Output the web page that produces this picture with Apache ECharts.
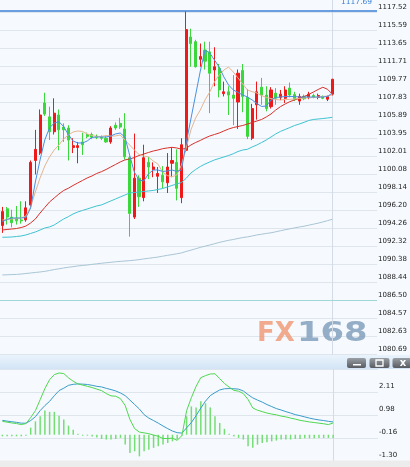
<!DOCTYPE html>
<html>
<head>
<meta charset="utf-8">
<script src="https://cdn.jsdelivr.net/npm/echarts@6/dist/echarts.min.js"></script>
<style>
html, body { margin: 0; padding: 0; background: #f6fafe; }
#main { width: 410px; height: 467px; }
</style>
</head>
<body>
<div id="main"></div>
<script>
// 71 candles + empty slots on the right
const categories = Array.from({ length: 80 }, (_, i) => String(i));

const opens = [1094.6,1096.4,1095.5,1095.4,1095.2,1095.2,1096.8,1101.6,1102.4,1107.8,
  1106.3,1104.7,1106.5,1105.2,1105.1,1103.0,1103.0,1103.6,1104.4,1104.4,
  1104.2,1104.1,1104.0,1103.6,1105.4,1105.6,1105.0,1101.9,1095.5,1099.7,
  1097.6,1101.4,1100.6,1099.9,1100.0,1099.2,1101.3,1101.4,1097.6,1102.7,
  1114.9,1114.4,1112.5,1113.5,1113.3,1111.35,1111.5,1108.8,1109.0,1108.65,
  1107.9,1111.3,1108.4,1104.0,1107.6,1109.5,1108.65,1107.4,1108.85,1108.4,
  1108.3,1109.4,1108.7,1108.0,1108.5,1108.4,1108.6,1108.4,1108.5,1108.2,
  1108.75];
const closes = [1096.1,1095.5,1094.9,1095.1,1095.1,1096.5,1101.4,1102.8,1106.5,1106.6,
  1104.7,1106.7,1104.9,1104.9,1103.8,1103.2,1103.2,1103.3,1104.2,1104.1,
  1104.1,1104.0,1103.6,1105.1,1105.1,1105.2,1102.0,1095.9,1099.7,1097.7,
  1101.9,1100.9,1100.9,1100.2,1099.3,1100.9,1101.6,1098.6,1103.3,1115.7,
  1114.2,1111.7,1112.8,1112.3,1111.0,1111.7,1109.2,1109.0,1108.65,1108.3,
  1111.0,1108.5,1104.2,1107.2,1109.0,1108.65,1107.2,1109.2,1108.3,1108.75,
  1109.2,1108.65,1108.2,1108.5,1108.25,1108.75,1108.4,1108.6,1108.3,1108.5,
  1110.35];
const lows = [1093.8,1094.7,1094.4,1094.7,1094.8,1095.0,1096.6,1100.1,1102.2,1106.4,
  1103.8,1104.4,1102.7,1103.6,1101.6,1102.4,1101.3,1102.2,1104.0,1103.9,
  1103.9,1103.8,1103.5,1103.4,1104.9,1105.0,1101.7,1093.4,1095.3,1096.6,
  1097.2,1099.6,1099.8,1098.1,1098.6,1098.1,1099.8,1097.3,1097.0,1102.5,
  1111.7,1111.6,1111.7,1111.4,1106.7,1109.6,1108.4,1108.5,1106.5,1105.4,
  1105.0,1106.8,1103.9,1103.8,1106.0,1107.6,1106.9,1107.2,1107.6,1108.1,
  1107.8,1108.4,1108.0,1107.6,1108.1,1108.2,1108.3,1108.2,1108.2,1108.0,
  1108.6];
const highs = [1096.6,1096.6,1096.3,1096.7,1097.2,1097.2,1101.6,1104.9,1107.1,1108.9,
  1107.4,1108.3,1107.1,1105.6,1105.4,1104.0,1103.6,1104.6,1104.6,1104.6,
  1104.4,1104.3,1104.2,1105.3,1105.7,1106.2,1106.7,1102.1,1104.5,1100.0,
  1103.3,1102.0,1101.4,1100.9,1101.0,1102.4,1103.0,1102.8,1104.0,1117.69,
  1115.8,1114.6,1114.2,1114.4,1114.4,1113.8,1112.0,1110.1,1109.6,1110.8,
  1111.4,1112.0,1109.3,1107.7,1110.1,1110.5,1109.6,1109.5,1109.4,1109.2,
  1109.6,1110.0,1109.0,1108.8,1108.7,1109.0,1108.8,1108.8,1108.6,1108.6,
  1110.4];

const maBlue = [1095.01,1095.25,1095.41,1095.41,1095.41,1095.46,1096.48,1099.28,1101.66,1103.81,
  1105.10,1105.64,1105.78,1105.26,1104.40,1103.70,1103.49,1103.49,1103.70,1104.08,
  1104.13,1104.13,1104.13,1104.24,1104.46,1104.56,1104.13,1102.19,1100.36,1099.50,
  1099.39,1100.15,1100.58,1100.58,1100.42,1100.47,1100.58,1100.42,1100.58,1103.49,
  1106.07,1108.66,1111.24,1113.50,1113.18,1112.43,1111.67,1110.60,1109.73,1109.20,
  1108.93,1108.66,1108.44,1108.12,1107.74,1107.42,1107.47,1108.12,1108.39,1108.44,
  1108.49,1108.49,1108.49,1108.44,1108.44,1108.44,1108.44,1108.44,1108.44,1108.49,
  1108.87];
const maTan = [1095.19,1095.25,1095.30,1095.35,1095.41,1095.62,1096.59,1098.21,1099.72,1101.01,
  1101.98,1102.73,1103.27,1103.92,1104.35,1104.67,1104.78,1104.73,1104.46,1104.29,
  1104.19,1104.19,1104.29,1104.24,1104.24,1104.35,1103.81,1103.27,1102.73,1102.25,
  1102.09,1101.98,1101.55,1101.22,1100.36,1099.98,1099.85,1100.04,1101.11,1102.94,
  1104.89,1106.18,1107.04,1108.12,1108.98,1110.06,1110.81,1111.35,1111.67,1111.13,
  1110.49,1109.84,1109.20,1109.01,1108.87,1108.60,1108.39,1108.28,1108.17,1108.12,
  1108.17,1108.19,1108.23,1108.28,1108.33,1108.35,1108.39,1108.44,1108.49,1108.55,
  1108.66];
const maRed = [1094.11,1094.17,1094.22,1094.27,1094.38,1094.54,1094.87,1095.30,1095.94,1096.54,
  1097.13,1097.56,1097.99,1098.37,1098.61,1098.91,1099.18,1099.45,1099.72,1099.93,
  1100.20,1100.39,1100.63,1100.90,1101.17,1101.44,1101.66,1101.76,1101.92,1102.14,
  1102.30,1102.46,1102.62,1102.73,1102.87,1102.95,1103.02,1102.95,1102.81,1102.91,
  1103.27,1103.54,1103.76,1104.02,1104.24,1104.40,1104.56,1104.78,1104.99,1105.15,
  1105.26,1105.37,1105.53,1105.69,1105.85,1106.02,1106.29,1106.61,1107.04,1107.40,
  1107.69,1107.94,1108.12,1108.30,1108.49,1108.71,1108.98,1109.25,1109.49,1109.27,
  1108.76];
const maCyan = [1093.33,1093.34,1093.36,1093.41,1093.47,1093.58,1093.74,1093.90,1094.11,1094.33,
  1094.44,1094.65,1094.98,1095.30,1095.55,1095.84,1096.05,1096.22,1096.38,1096.54,
  1096.70,1096.81,1097.02,1097.24,1097.45,1097.67,1097.88,1098.10,1098.15,1098.21,
  1098.26,1098.32,1098.37,1098.48,1098.58,1098.75,1098.91,1099.07,1099.23,1099.68,
  1100.25,1100.63,1100.95,1101.22,1101.44,1101.66,1101.82,1101.98,1102.14,1102.33,
  1102.57,1102.73,1102.81,1103.06,1103.27,1103.54,1103.81,1104.13,1104.46,1104.73,
  1104.94,1105.15,1105.37,1105.53,1105.71,1105.91,1106.02,1106.07,1106.12,1106.18,
  1106.25];
const maGray = [1089.27,1089.29,1089.31,1089.33,1089.37,1089.43,1089.48,1089.54,1089.59,1089.66,
  1089.75,1089.85,1089.93,1090.02,1090.10,1090.16,1090.24,1090.29,1090.34,1090.41,
  1090.47,1090.53,1090.58,1090.63,1090.69,1090.73,1090.77,1090.81,1090.86,1090.92,
  1091.00,1091.06,1091.13,1091.20,1091.29,1091.38,1091.46,1091.55,1091.64,1091.80,
  1091.94,1092.09,1092.24,1092.37,1092.50,1092.63,1092.77,1092.89,1093.00,1093.09,
  1093.20,1093.30,1093.37,1093.47,1093.58,1093.66,1093.74,1093.81,1093.92,1094.03,
  1094.14,1094.24,1094.34,1094.44,1094.52,1094.63,1094.74,1094.85,1094.98,1095.12,
  1095.27];

const dif = [0.66,0.62,0.58,0.55,0.50,0.55,0.85,1.19,1.73,2.28,
  2.72,2.97,3.05,3.02,2.81,2.64,2.51,2.45,2.39,2.33,
  2.25,2.18,2.03,1.92,1.90,1.78,1.44,0.75,0.30,0.13,
  0.09,0.05,-0.02,-0.08,-0.19,-0.19,-0.17,-0.28,-0.04,1.19,
  1.83,2.39,2.82,2.92,3.00,3.01,2.77,2.53,2.35,2.19,
  2.15,2.03,1.74,1.32,1.21,1.14,1.07,1.02,0.98,0.92,
  0.88,0.82,0.77,0.71,0.67,0.63,0.60,0.57,0.54,0.50,
  0.58];
const dea = [0.71,0.67,0.64,0.61,0.57,0.57,0.70,0.89,1.19,1.44,
  1.65,1.93,2.18,2.30,2.44,2.49,2.51,2.50,2.48,2.44,
  2.39,2.36,2.29,2.23,2.16,2.06,1.93,1.71,1.49,1.27,
  0.99,0.82,0.70,0.57,0.43,0.30,0.18,0.10,0.08,0.34,
  0.60,0.94,1.32,1.66,1.93,2.08,2.21,2.27,2.28,2.27,
  2.25,2.16,1.98,1.82,1.71,1.61,1.49,1.39,1.29,1.22,
  1.14,1.07,0.99,0.94,0.88,0.82,0.77,0.73,0.70,0.66,
  0.63];
const hist = [-0.08,-0.08,-0.08,-0.08,-0.08,-0.05,0.35,0.66,0.91,1.19,
  1.13,1.13,0.94,0.75,0.45,0.25,0.05,-0.05,-0.05,-0.09,
  -0.14,-0.21,-0.24,-0.24,-0.21,-0.16,-0.49,-0.90,-0.82,-1.07,
  -0.82,-0.74,-0.65,-0.57,-0.49,-0.41,-0.33,-0.24,-0.05,0.91,
  1.40,1.35,1.65,1.55,1.35,0.91,0.58,0.29,0.05,-0.09,
  -0.16,-0.24,-0.57,-0.65,-0.49,-0.41,-0.37,-0.33,-0.29,-0.24,
  -0.24,-0.24,-0.21,-0.21,-0.18,-0.18,-0.18,-0.16,-0.16,-0.16,
  -0.16];

const priceTicks = ['1080.69','1082.63','1084.57','1086.50','1088.44','1090.38','1092.32','1094.26',
  '1096.20','1098.14','1100.08','1102.01','1103.95','1105.89','1107.83','1109.77','1111.71',
  '1113.65','1115.59','1117.52'];
const macdTicks = ['-1.30','-0.16','0.98','2.11'];

const highMark = 1117.69;
const lastIndex = 70;

const yMin = 1080.69, yMax = 1118.89;
const step = (1117.52 - 1080.69) / 19;
const mMin = -1.30, mStep = 1.1367, mMax = mMin + 4 * mStep;

const candleData = opens.map((o, i) => [o, closes[i], lows[i], highs[i]]);

function tickFormatter(min, st, labels) {
  return function (v) {
    const k = Math.round((v - min) / st);
    if (k >= 0 && k < labels.length && Math.abs(min + k * st - v) < st / 4) return labels[k];
    return '';
  };
}

const labelStyle = {
  margin: 1, fontSize: 7, fontFamily: 'DejaVu Sans', color: '#222',
  verticalAlign: 'bottom', lineHeight: 11, showMaxLabel: false, showMinLabel: true
};
const gridLine = { show: true, showMaxLine: false, lineStyle: { color: '#dfe5ec', width: 1 } };
const hiddenX = {
  type: 'category', data: categories, boundaryGap: true,
  axisLine: { show: false }, axisTick: { show: false }, axisLabel: { show: false }, splitLine: { show: false }
};

function maLine(name, data, color) {
  return {
    name: name, type: 'line', data: data, xAxisIndex: 0, yAxisIndex: 0,
    symbol: 'none', z: 3, silent: true,
    lineStyle: { color: color, width: 1 }
  };
}

// vertical line at the last candle, kept under the marks (markLine z defaults to 5)
function lastLine(xi, yi) {
  return {
    type: 'line', data: [], xAxisIndex: xi, yAxisIndex: yi, z: 1, silent: true, symbol: 'none',
    markLine: {
      z: 1, silent: true, symbol: ['none', 'none'], animation: false,
      data: [{ xAxis: lastIndex, lineStyle: { color: '#d3dce6', width: 1, type: 'solid' }, label: { show: false } }]
    }
  };
}

const btnFill = new echarts.graphic.LinearGradient(0, 0, 0, 1, [
  { offset: 0, color: '#9a9fa5' }, { offset: 1, color: '#585c61' }
]);

const chart = echarts.init(document.getElementById('main'));
chart.setOption({
  animation: false,
  backgroundColor: '#f6fafe',
  grid: [
    { left: -1.5, top: 0, width: 379.5, height: 354.6 },
    { left: -1.5, top: 369, width: 379.5, height: 92 }
  ],
  xAxis: [
    Object.assign({ gridIndex: 0 }, hiddenX),
    Object.assign({ gridIndex: 1 }, hiddenX)
  ],
  yAxis: [
    {
      type: 'value', gridIndex: 0, position: 'right', min: yMin, max: yMax, interval: step,
      axisLine: { show: false }, axisTick: { show: false },
      axisLabel: Object.assign({ formatter: tickFormatter(yMin, step, priceTicks) }, labelStyle),
      splitLine: gridLine
    },
    {
      type: 'value', gridIndex: 1, position: 'right', min: mMin, max: mMax, interval: mStep,
      axisLine: { show: false }, axisTick: { show: false },
      axisLabel: Object.assign({ formatter: tickFormatter(mMin, mStep, macdTicks) }, labelStyle),
      splitLine: gridLine
    }
  ],
  series: [
    lastLine(0, 0),
    lastLine(1, 1),
    {
      type: 'candlestick', data: candleData, xAxisIndex: 0, yAxisIndex: 0,
      barWidth: 2.6, silent: true, z: 2,
      itemStyle: {
        color: '#ee1a1a', color0: '#3bd83b',
        borderColor: '#ee1a1a', borderColor0: '#3bd83b', borderWidth: 1
      },
      markLine: {
        silent: true, symbol: ['none', 'none'], animation: false,
        data: [
          {
            yAxis: highMark, lineStyle: { color: '#3a7fd6', width: 1.5, type: 'solid' },
            label: {
              show: true, position: 'insideEndTop', formatter: '1117.69', color: '#3a7fd6',
              fontSize: 7.5, fontFamily: 'DejaVu Sans', padding: [0, 0, 0, 0]
            }
          },
          { yAxis: 1086.505, lineStyle: { color: '#9fd8d6', width: 1.2, type: 'solid' }, label: { show: false } }
        ]
      }
    },
    maLine('gray', maGray, '#a9c5d6'),
    maLine('cyan', maCyan, '#3fc3d1'),
    maLine('red', maRed, '#d9302a'),
    maLine('tan', maTan, '#e6b591'),
    maLine('blue', maBlue, '#4a8fe3'),
    {
      type: 'bar', data: hist, xAxisIndex: 1, yAxisIndex: 1, barWidth: 1.5, silent: true,
      itemStyle: { color: '#74de74' }
    },
    {
      type: 'line', data: dea, xAxisIndex: 1, yAxisIndex: 1, symbol: 'none', silent: true,
      lineStyle: { color: '#3a9bc9', width: 1 }
    },
    {
      type: 'line', data: dif, xAxisIndex: 1, yAxisIndex: 1, symbol: 'none', silent: true,
      lineStyle: { color: '#4fd84f', width: 1 }
    }
  ],
  graphic: [
    {
      type: 'text', x: 257, y: 334, z: 1, silent: true,
      style: { text: 'FX', font: 'bold 26px "DejaVu Sans"', fill: 'rgba(240,150,112,0.8)', verticalAlign: 'middle' }
    },
    {
      type: 'text', x: 297, y: 334, z: 1, scaleX: 1.3, silent: true,
      style: { text: '168', font: 'bold 26px "DejaVu Sans"', fill: 'rgba(130,160,190,0.85)', verticalAlign: 'middle' }
    },
    {
      type: 'rect', z: 100, silent: true,
      shape: { x: 0, y: 355, width: 410, height: 14 },
      style: {
        fill: new echarts.graphic.LinearGradient(0, 0, 0, 1, [
          { offset: 0, color: '#eaf3fc' }, { offset: 1, color: '#d2e4f6' }
        ])
      }
    },
    { type: 'rect', z: 101, silent: true, shape: { x: 347, y: 358, width: 19, height: 10, r: 2 }, style: { fill: btnFill } },
    { type: 'rect', z: 101, silent: true, shape: { x: 369.5, y: 358, width: 20, height: 10, r: 2 }, style: { fill: btnFill } },
    { type: 'rect', z: 101, silent: true, shape: { x: 392.5, y: 358, width: 19, height: 10, r: 2 }, style: { fill: btnFill } },
    { type: 'rect', z: 102, silent: true, shape: { x: 353, y: 364, width: 8, height: 1.5 }, style: { fill: '#ffffff' } },
    { type: 'rect', z: 102, silent: true, shape: { x: 376, y: 360, width: 7, height: 6 }, style: { fill: 'none', stroke: '#ffffff', lineWidth: 1.3 } },
    {
      type: 'text', z: 102, x: 403, y: 363.5, silent: true,
      style: { text: 'x', font: 'bold 10px "DejaVu Sans"', fill: '#ffffff', align: 'center', verticalAlign: 'middle' }
    },
    { type: 'rect', z: 100, silent: true, shape: { x: 0, y: 460.5, width: 410, height: 7 }, style: { fill: '#ececec' } }
  ]
});
</script>
</body>
</html>
